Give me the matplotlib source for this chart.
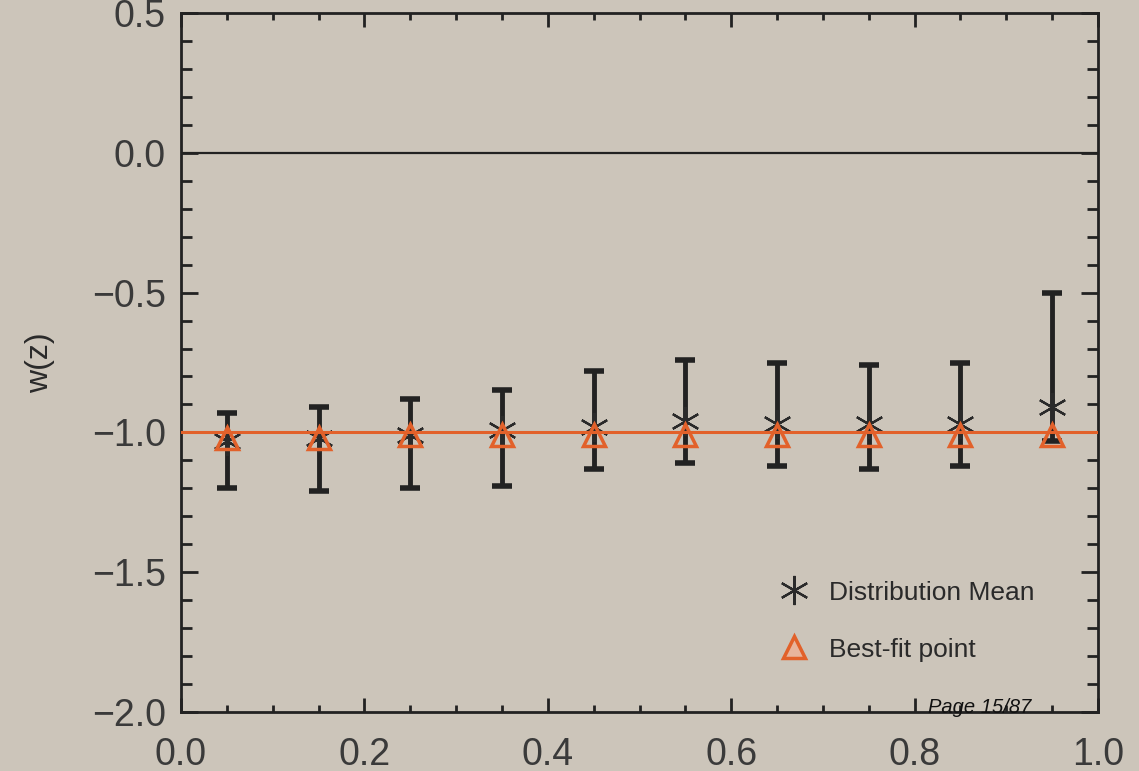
import matplotlib
matplotlib.use("Agg")
from matplotlib import pyplot as plt
from matplotlib.ticker import MultipleLocator

# redshift bins and w(z) values
z = [0.05, 0.15, 0.25, 0.35, 0.45, 0.55, 0.65, 0.75, 0.85, 0.95]
w_mean = [-1.03, -1.02, -1.01, -0.99, -0.98, -0.96, -0.97, -0.97, -0.97, -0.91]
w_upper = [-0.93, -0.91, -0.88, -0.85, -0.78, -0.74, -0.75, -0.76, -0.75, -0.50]
w_lower = [-1.20, -1.21, -1.20, -1.19, -1.13, -1.11, -1.12, -1.13, -1.12, -1.03]
w_best = [-1.02, -1.02, -1.01, -1.01, -1.01, -1.01, -1.01, -1.01, -1.01, -1.01]
w_fiducial = -1.0

bg = "#ccc5ba"
orange = "#e2612a"
ink = "#222222"

plt.rcParams["font.family"] = ["Liberation Sans", "DejaVu Sans"]

fig = plt.figure(figsize=(11.39, 7.71), dpi=100, facecolor=bg)
ax = fig.add_axes([181 / 1139, 1 - 712 / 771, 917 / 1139, 699 / 771])
ax.set_facecolor(bg)

err_lo = [m - l for m, l in zip(w_mean, w_lower)]
err_hi = [u - m for m, u in zip(w_mean, w_upper)]

ax.errorbar(z, w_mean, yerr=[err_lo, err_hi], fmt="none", ecolor=ink,
            elinewidth=3.5, capsize=7, capthick=4, zorder=2)
mean_h, = ax.plot(z, w_mean, linestyle="none", marker=(6, 2, 0), markersize=21,
                  markeredgewidth=1.6, color="#2a2a2a", zorder=3,
                  label="Distribution Mean")
best_h, = ax.plot(z, w_best, linestyle="none", marker="^", markersize=16,
                  markerfacecolor="none", markeredgecolor=orange,
                  markeredgewidth=2.5, zorder=4, label="Best-fit point")
ax.axhline(0.0, color=ink, lw=1.6, zorder=1)
ax.axhline(w_fiducial, color=orange, lw=2.2, zorder=5)

ax.set_xlim(0, 1)
ax.set_ylim(-2.0, 0.5)
ax.xaxis.set_major_locator(MultipleLocator(0.2))
ax.xaxis.set_minor_locator(MultipleLocator(0.05))
ax.yaxis.set_major_locator(MultipleLocator(0.5))
ax.yaxis.set_minor_locator(MultipleLocator(0.1))

ax.tick_params(axis="both", which="both", direction="in", top=True, right=True,
               color=ink, width=2)
ax.tick_params(axis="x", which="major", length=10, pad=18, labelsize=27,
               labelcolor="#3a3a3a")
ax.tick_params(axis="x", which="minor", length=5)
ax.tick_params(axis="y", which="major", length=12, pad=11, labelsize=27,
               labelcolor="#3a3a3a")
ax.tick_params(axis="y", which="minor", length=8)
for s in ax.spines.values():
    s.set_linewidth(2)
    s.set_color(ink)

ax.set_ylabel("w(z)", fontsize=23, color="#2a2a2a")
ax.yaxis.set_label_coords(-0.137, 0.5)

leg = ax.legend(handles=[mean_h, best_h], loc="lower right",
                bbox_to_anchor=(0.957, 0.038), frameon=False, fontsize=19,
                labelspacing=1.25, handlelength=1.3, handletextpad=0.7,
                labelcolor="#2a2a2a")
leg.legend_handles[1].set_markerfacecolor("#e8b49c")

fig.text(0.815, 0.083, "Page 15/87", fontsize=14.5, style="italic",
         color="#111111", va="center", ha="left")

fig.savefig("out.png", dpi=100, facecolor=bg)
